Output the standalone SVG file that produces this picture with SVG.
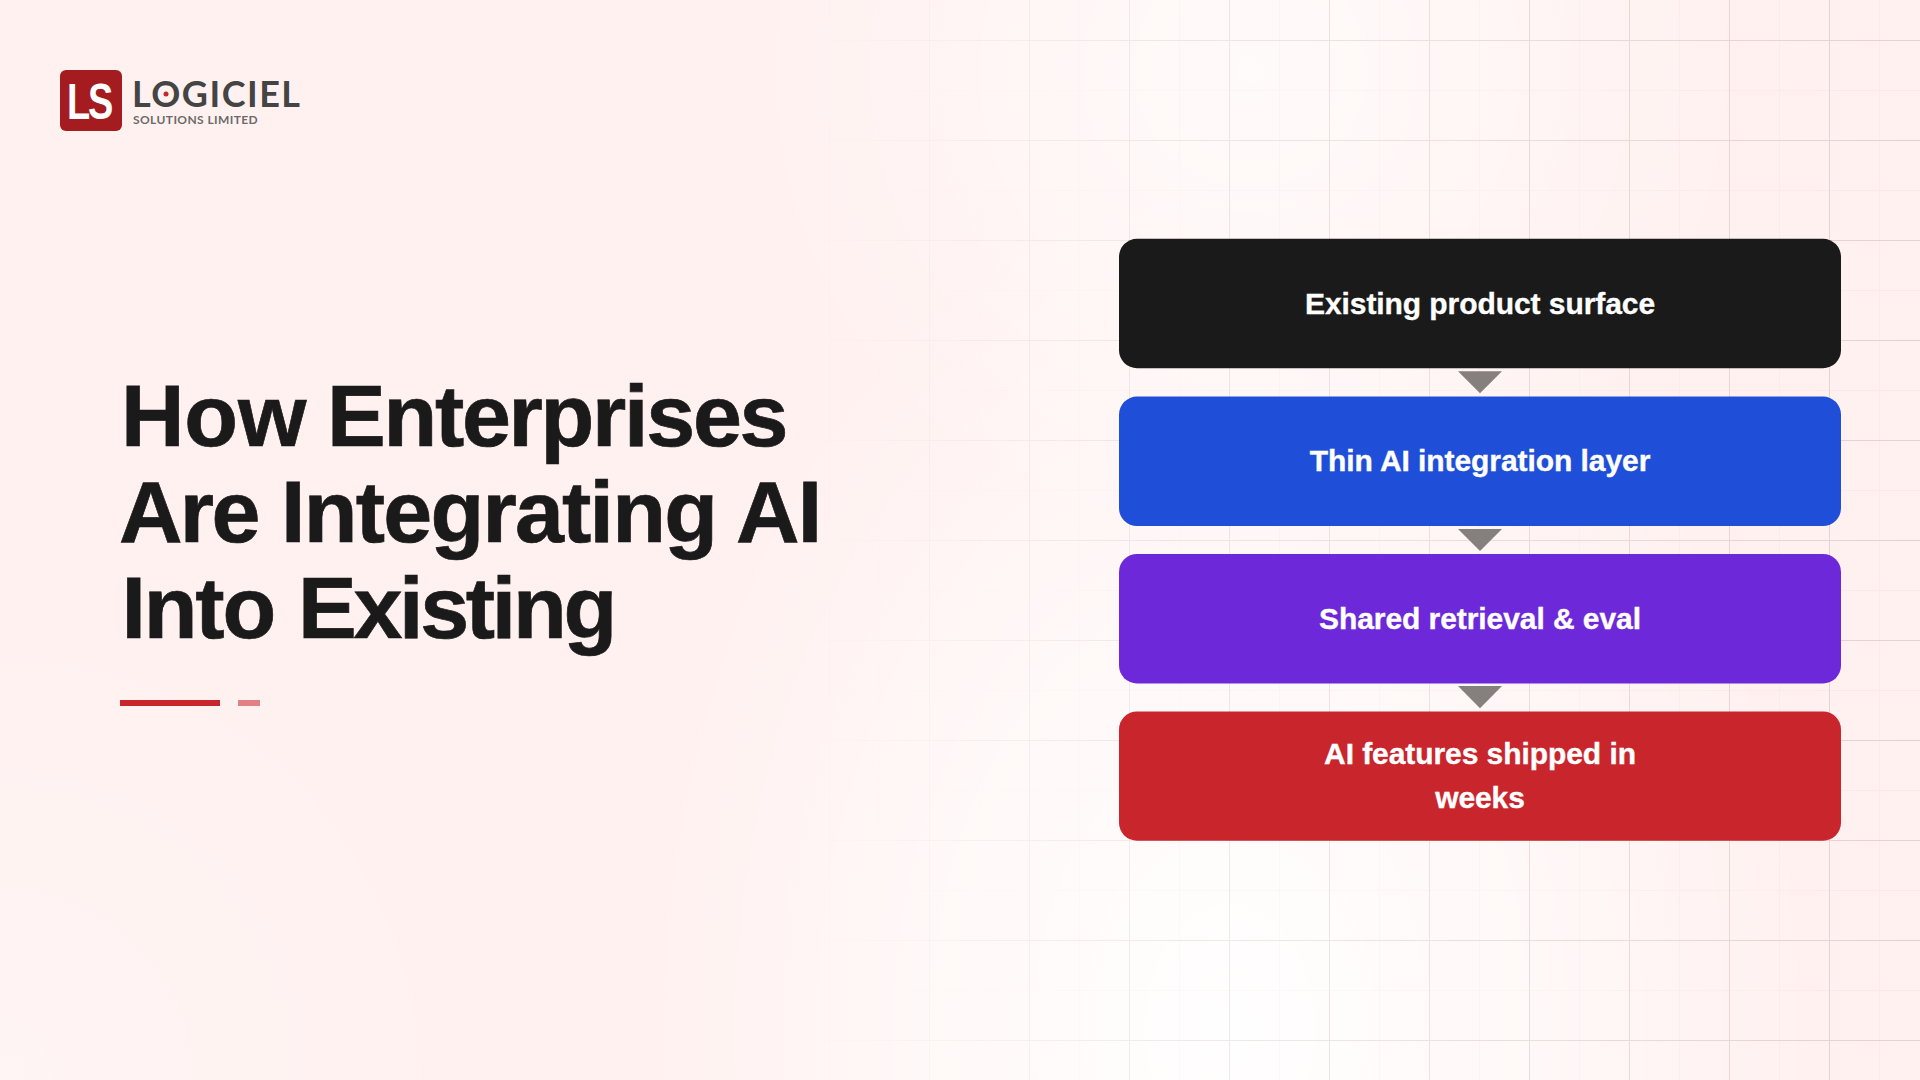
<svg xmlns="http://www.w3.org/2000/svg" width="1920" height="1080" viewBox="0 0 1920 1080">
<style>
.title{font-family:"Liberation Sans",Arial,sans-serif;font-weight:700;font-size:88px;fill:#1a1a1a;stroke:#1a1a1a;stroke-width:.7px}
.lbl{font-family:"Liberation Sans",Arial,sans-serif;font-weight:700;font-size:30px;letter-spacing:-0.07px;fill:#fff;stroke:#fff;stroke-width:.35px;text-anchor:middle}
.arrow{fill:#85807e}
</style>
<defs>
<radialGradient id="glow" gradientUnits="userSpaceOnUse" cx="1230" cy="1030" r="860" gradientTransform="translate(1230 1030) scale(0.68 1) translate(-1230 -1030)">
<stop offset="0" stop-color="#fff" stop-opacity=".95"/><stop offset="0.5" stop-color="#fff" stop-opacity="0.55"/><stop offset="1" stop-color="#fff" stop-opacity="0"/>
</radialGradient>
<radialGradient id="glowTop" gradientUnits="userSpaceOnUse" cx="1250" cy="70" r="500">
<stop offset="0" stop-color="#fff" stop-opacity=".7"/><stop offset="1" stop-color="#fff" stop-opacity="0"/>
</radialGradient>
<radialGradient id="glowLeft" gradientUnits="userSpaceOnUse" cx="0" cy="1080" r="480">
<stop offset="0" stop-color="#fff" stop-opacity=".28"/><stop offset="1" stop-color="#fff" stop-opacity="0"/>
</radialGradient>
<pattern id="fine" patternUnits="userSpaceOnUse" x="29" y="40" width="50" height="50">
<path d="M0 0V50M0 0H50" fill="none" stroke="#8a3a3a" stroke-opacity=".035" stroke-width="2"/>
</pattern>
<pattern id="coarse" patternUnits="userSpaceOnUse" x="29" y="40" width="100" height="100">
<path d="M0 0V100M0 0H100" fill="none" stroke="#7a3030" stroke-opacity=".14" stroke-width="2"/>
</pattern>
<linearGradient id="fade" x1="0" x2="1" y1="0" y2="0">
<stop offset="0.42" stop-color="#000"/><stop offset="0.62" stop-color="#999"/><stop offset="1" stop-color="#fff"/>
</linearGradient>
<mask id="gridMask" maskUnits="userSpaceOnUse" x="0" y="0" width="1920" height="1080"><rect width="1920" height="1080" fill="url(#fade)"/></mask>
</defs>
<g id="background">
<rect width="1920" height="1080" fill="#fff1f0"/>
<rect width="1920" height="1080" fill="url(#glow)"/>
<rect width="1920" height="1080" fill="url(#glowTop)"/>
<rect width="1920" height="1080" fill="url(#glowLeft)"/>
<g mask="url(#gridMask)">
<rect width="1920" height="1080" fill="url(#fine)"/>
<rect width="1920" height="1080" fill="url(#coarse)"/>
</g>
</g>
<g id="logo">
<rect x="60" y="70" width="62" height="61" rx="6" fill="#a51c20"/>
<text transform="translate(67 119) scale(.76 1)" font-family="'Liberation Sans',Arial,sans-serif" font-weight="700" font-size="50" letter-spacing="-3" fill="#fff">LS</text>
<text x="132" y="107" font-family="Lato,'Liberation Sans',sans-serif" font-weight="700" font-size="36" letter-spacing="1.5" fill="#444">LOGICIEL</text>
<circle cx="166" cy="94" r="2.5" fill="#c9252d"/>
<text x="133" y="123.5" font-family="Lato,'Liberation Sans',sans-serif" font-weight="700" font-size="12" letter-spacing="0.4" fill="#6d6a6a">SOLUTIONS LIMITED</text>
</g>
<g id="title">
<text class="title" y="446"><tspan x="121" letter-spacing="-0.2">How </tspan><tspan x="327" letter-spacing="-2.27">Enterprises</tspan></text>
<text class="title" y="542"><tspan x="119" letter-spacing="-2.7">Are </tspan><tspan x="281" letter-spacing="-1.76">Integrating </tspan><tspan x="736" letter-spacing="-1.9">AI</tspan></text>
<text class="title" y="638"><tspan x="121.5" letter-spacing="-2.2">Into </tspan><tspan x="298" letter-spacing="-3.3">Existing</tspan></text>
<rect x="120" y="700" width="100" height="6" fill="#c9252d"/>
<rect x="238" y="700" width="22" height="6" fill="#c9252d" fill-opacity=".55"/>
</g>
<g id="connectors">
<polygon class="arrow" points="1458,371.3 1502,371.3 1480,393.3"/>
<polygon class="arrow" points="1458,529 1502,529 1480,551"/>
<polygon class="arrow" points="1458,686 1502,686 1480,708.3"/>
</g>
<g id="node-existing">
<rect x="1119" y="238.8" width="722" height="129.4" rx="18" fill="#1a1a1a"/>
<text class="lbl" x="1480" y="314">Existing product surface</text>
</g>
<g id="node-thin">
<rect x="1119" y="396.6" width="722" height="129.4" rx="18" fill="#1f4fd8"/>
<text class="lbl" x="1480" y="471">Thin AI integration layer</text>
</g>
<g id="node-shared">
<rect x="1119" y="554" width="722" height="129.4" rx="18" fill="#6d28d9"/>
<text class="lbl" x="1480" y="629">Shared retrieval &amp; eval</text>
</g>
<g id="node-features">
<rect x="1119" y="711.5" width="722" height="129.2" rx="18" fill="#c9252d"/>
<text class="lbl" x="1480" y="764">AI features shipped in</text>
<text class="lbl" x="1480" y="808">weeks</text>
</g>
</svg>
